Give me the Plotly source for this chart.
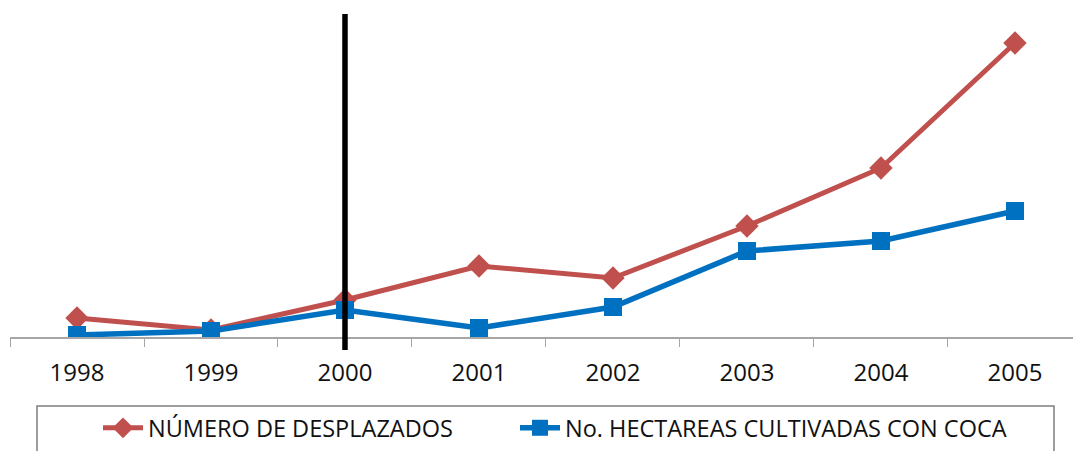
import plotly.graph_objects as go

years = ["1998", "1999", "2000", "2001", "2002", "2003", "2004", "2005"]
desplazados = [19, 7, 37, 71, 59, 111, 169, 294]
hectareas = [2, 6, 27, 9, 30, 86, 96, 126]
marker_year = "2000"

fig = go.Figure()
fig.add_trace(go.Scatter(
    x=years, y=desplazados, name="NÚMERO DE DESPLAZADOS",
    mode="lines+markers", legend="legend",
    line=dict(color="#C0504D", width=5),
    marker=dict(symbol="diamond", size=18, color="#C0504D"),
))
fig.add_trace(go.Scatter(
    x=years, y=hectareas, name="No. HECTAREAS CULTIVADAS CON COCA",
    mode="lines+markers", legend="legend2",
    line=dict(color="#0070C0", width=5.5),
    marker=dict(symbol="square", size=18, color="#0070C0"),
))

xi = years.index(marker_year)
fig.add_shape(type="line", xref="x", yref="paper",
              x0=xi, x1=xi, y0=-0.04, y1=1.0,
              line=dict(color="black", width=5.5), layer="above")

# legend frame
fig.add_shape(type="rect", xref="paper", yref="paper",
              x0=(37 - 10) / 1063, x1=(1054 - 10) / 1063,
              y0=-0.5, y1=-(406 - 337) / 323,
              line=dict(color="#7f7f7f", width=1.5), fillcolor="rgba(0,0,0,0)")

leg_common = dict(
    orientation="h", y=-(406 - 337) / 323,
    xanchor="left", yanchor="top",
    borderwidth=0, bgcolor="rgba(0,0,0,0)",
    font=dict(family="Open Sans", size=23.5, color="#111111"),
    itemwidth=40,
)

fig.update_layout(
    width=1073, height=451,
    margin=dict(l=10, r=0, t=14, b=114, autoexpand=False),
    paper_bgcolor="white", plot_bgcolor="white",
    font=dict(family="Open Sans", size=22, color="#111111"),
    showlegend=True,
    legend=dict(x=(98 - 10) / 1063, **leg_common),
    legend2=dict(x=(515 - 10) / 1063, **leg_common),
    xaxis=dict(
        type="category", range=[-0.5, 7.433],
        showline=True, linecolor="#a6a6a6", linewidth=1.5,
        ticks="outside", tickson="boundaries", ticklen=8, tickcolor="#a6a6a6",
        showgrid=False, zeroline=False, ticklabelstandoff=13,
        tickfont=dict(size=24),
    ),
    yaxis=dict(range=[0, 323], visible=False, showgrid=False, zeroline=False),
)

fig.write_html("out.html", config={"displayModeBar": False},
               post_script="document.body.style.margin='0';document.body.style.overflow='hidden';")
